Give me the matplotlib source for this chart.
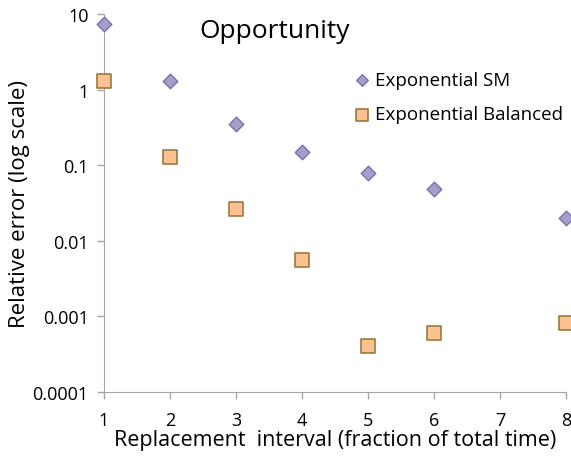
import matplotlib
matplotlib.use("Agg")
import matplotlib.pyplot as plt
from matplotlib.ticker import FixedLocator, FixedFormatter, NullLocator

plt.rcParams['font.family'] = ['Open Sans', 'DejaVu Sans']

x_sm = [1, 2, 3, 4, 5, 6, 8]
sm_err = [7.4, 1.28, 0.355, 0.15, 0.08, 0.049, 0.020]
x_bal = [1, 2, 3, 4, 5, 6, 8]
bal_err = [1.3, 0.13, 0.0267, 0.0056, 0.0004, 0.00061, 0.00082]
yticks = [0.0001, 0.001, 0.01, 0.1, 1, 10]
ylabels = ['0.0001', '0.001', '0.01', '0.1', '1', '10']

fig = plt.figure(figsize=(5.71, 4.6), dpi=100)
ax = fig.add_axes([104 / 571, 1 - 393 / 460, (566 - 104) / 571, (393 - 15) / 460])

ax.scatter(x_sm, sm_err, marker='D', s=55, facecolor='#a59dca', edgecolor='#7b72ac',
           linewidth=1.0, label='Exponential SM', zorder=3, clip_on=False)
ax.scatter(x_bal, bal_err, marker='s', s=100, facecolor='#fbc190', edgecolor='#9a7a3e',
           linewidth=1.2, label='Exponential Balanced', zorder=3, clip_on=False)

ax.set_yscale('log')
ax.set_ylim(0.0001, 10)
ax.set_xlim(1, 8)
ax.yaxis.set_major_locator(FixedLocator(yticks))
ax.yaxis.set_major_formatter(FixedFormatter(ylabels))
ax.yaxis.set_minor_locator(NullLocator())
ax.set_xticks(range(1, 9))

for s in ['top', 'right']:
    ax.spines[s].set_visible(False)
for s in ['left', 'bottom']:
    ax.spines[s].set_color('#a6a6a6')
ax.tick_params(colors='#a6a6a6', labelcolor='black', labelsize=13, length=5, width=1)
ax.tick_params(axis='y', pad=6)
ax.tick_params(axis='x', pad=9)

ax.set_xlabel('Replacement  interval (fraction of total time)', fontsize=15.5, labelpad=0)
ax.set_ylabel('Relative error (log scale)', fontsize=16, labelpad=2)
ax.text(0.206, 0.99, 'Opportunity', transform=ax.transAxes, fontsize=19, va='top', ha='left')

ax.legend(loc='upper right', bbox_to_anchor=(1.03, 0.895), frameon=False, fontsize=13.5,
          handletextpad=0.2, labelspacing=0.9, markerscale=0.8, handlelength=1.0)

fig.savefig('out.png', dpi=100)
